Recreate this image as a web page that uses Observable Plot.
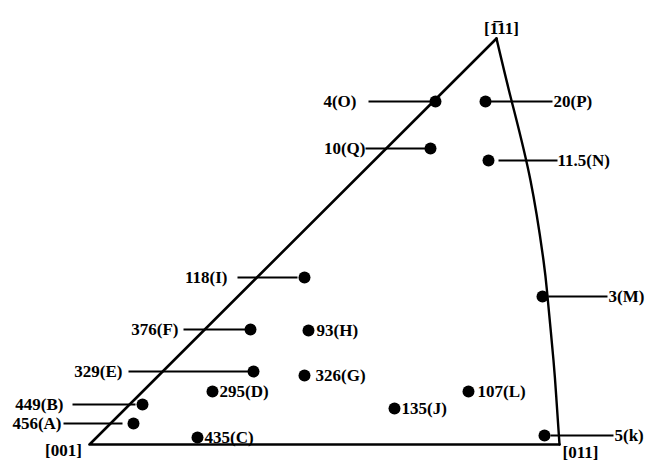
<!DOCTYPE html>
<html>
<head>
<meta charset="utf-8">
<script src="https://cdn.jsdelivr.net/npm/d3@7"></script>
<script src="https://cdn.jsdelivr.net/npm/@observablehq/plot@0.6"></script>
<style>
  html, body { margin: 0; padding: 0; background: #fff; }
  #chart svg { display: block; }
</style>
</head>
<body>
<div id="chart"></div>
<script>
// Coordinates: u to the right of [001], v above the [001]-[011] edge (drawing units)
const ids    = ["O","P","Q","N","I","F","H","E","G","D","B","A","C","J","L","M","k"];
const values = [4, 20, 10, 11.5, 118, 376, 93, 329, 326, 295, 449, 456, 435, 135, 107, 3, 5];
const pointU = [346, 396, 341, 399, 215, 161, 219, 164, 215, 123, 53, 44, 108, 305, 379, 453, 455];
const pointV = [343, 343, 296, 284, 167, 115, 114, 73, 69, 53, 40, 21, 7, 36, 53, 148, 9];
// label side and anchor position
const labelSide = ["left","right","left","right","left","left","right","left","right","right","left","left","right","right","right","right","right"];
const labelU    = [267, 464, 276, 468, 138, 89, 227, 33, 226, 130, -26, -28, 115, 312, 388, 519, 525];
// leader lines (null = none)
const leaderFrom = [279, 396, 276, 409, 148, 94, null, 39, null, null, -17, -26, null, null, null, 459, 461];
const leaderTo   = [346, 463, 341, 468, 208, 156, null, 164, null, null, 46, 33, null, null, null, 518, 524];

// triangle: vertices and curved [-111]-[011] edge
const vertexNames = ["[-111]", "[001]", "[011]"];
const vertexU = [407, 0, 470];
const vertexV = [406, 0, 0];
const arcU = [407, 422, 441, 454, 458, 464, 467, 470];
const arcV = [406, 344, 264, 184, 148, 84, 44, 0];
// pole labels
const poleText = ["[1\u030511]", "[001]", "[011]"];
const poleU = [412, -26, 491];
const poleV = [416, -6, -8];

const points = ids.map((id, i) => ({
  id, value: values[i], u: pointU[i], v: pointV[i],
  label: `${values[i]}(${id})`, side: labelSide[i], lu: labelU[i],
  from: leaderFrom[i], to: leaderTo[i]
}));
const leaders = points.filter(d => d.from !== null);
const straight = vertexNames.map((n, i) => ({u: vertexU[i], v: vertexV[i]}));
const arc = arcU.map((u, i) => ({u, v: arcV[i]}));
const poles = poleText.map((t, i) => ({t, u: poleU[i], v: poleV[i]}));

const font = "'Liberation Serif', 'Times New Roman', serif";
const fs = 17;

const chart = Plot.plot({
  width: 646,
  height: 462,
  margin: 0,
  style: {background: "#fff", fontFamily: font},
  x: {domain: [-89, 557], axis: null},
  y: {domain: [-18, 444], axis: null},
  marks: [
    Plot.line(straight, {x: "u", y: "v", stroke: "#000", strokeWidth: 2.6}),
    Plot.line(arc, {x: "u", y: "v", stroke: "#000", strokeWidth: 2.4, curve: "natural"}),
    Plot.link(leaders, {x1: "from", x2: "to", y1: "v", y2: "v", stroke: "#000", strokeWidth: 2.2}),
    Plot.dot(points, {x: "u", y: "v", r: 6, fill: "#000"}),
    Plot.text(points.filter(d => d.side === "left"), {x: "lu", y: "v", text: "label", textAnchor: "end", fontSize: fs, fontWeight: "bold", fill: "#000"}),
    Plot.text(points.filter(d => d.side === "right"), {x: "lu", y: "v", text: "label", textAnchor: "start", fontSize: fs, fontWeight: "bold", fill: "#000"}),
    Plot.text(poles, {x: "u", y: "v", text: "t", fontSize: fs, fontWeight: "bold", fill: "#000"})
  ]
});
document.getElementById("chart").appendChild(chart);
</script>
</body>
</html>
